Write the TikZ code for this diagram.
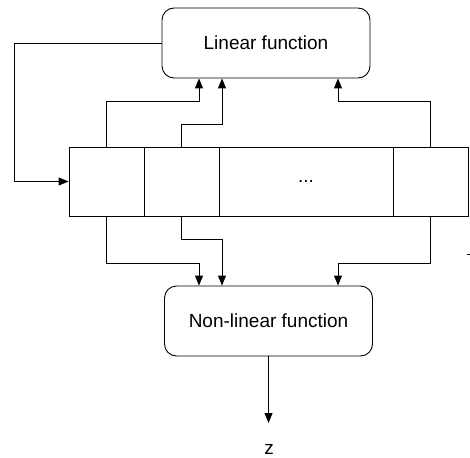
\documentclass[tikz,border=0pt]{standalone}
\usepackage{fontspec}
\setmainfont{Liberation Sans}
\usetikzlibrary{arrows.meta}
\begin{document}
\begin{tikzpicture}[x=1pt,y=-1pt,
  every node/.style={font=\fontsize{19}{22}\selectfont},
  fbox/.style={draw,rounded corners=12pt,line width=0.9pt,minimum width=208pt,minimum height=70pt,inner sep=0pt},
  cell/.style={draw,line width=0.9pt,minimum height=69pt,inner sep=0pt},
  arr/.style={draw,line width=0.9pt,-{Triangle[length=10pt,width=8pt]}},
  ln/.style={line width=0.9pt}]
\useasboundingbox (0,0) rectangle (470,457);
\node[fbox] (lin) at (266,43) {Linear function};
\node[fbox] (nl) at (268.5,321) {Non-linear function};
\node[cell,minimum width=75pt] (c1) at (106.5,181.5) {};
\node[cell,minimum width=75pt] (c2) at (181.5,181.5) {};
\node[cell,minimum width=174pt] (c3) at (306,181.5) {...};
\node[cell,minimum width=75pt] (c4) at (430.5,181.5) {};
\node (z) at (269,449) {z};
% feedback
\draw[arr] (lin.west) -| (14,181.5) -- (c1.west);
% up
\draw[arr] (c1.north) |- (199,101) -- (lin.south -| 199,101);
\draw[arr] (c2.north) |- (222,124) -- (lin.south -| 222,124);
\draw[arr] (c4.north) |- (338,101) -- (lin.south -| 338,101);
% down
\draw[arr] (c1.south) |- (199,263) -- (nl.north -| 199,263);
\draw[arr] (c2.south) |- (222,239) -- (nl.north -| 222,239);
\draw[arr] (c4.south) |- (338,263) -- (nl.north -| 338,263);
% output
\draw[arr] (nl.south) -- (nl.south |- 0,423);
% stray mark
\draw[ln] (467,254) -- (469.5,254);
\end{tikzpicture}
\end{document}
